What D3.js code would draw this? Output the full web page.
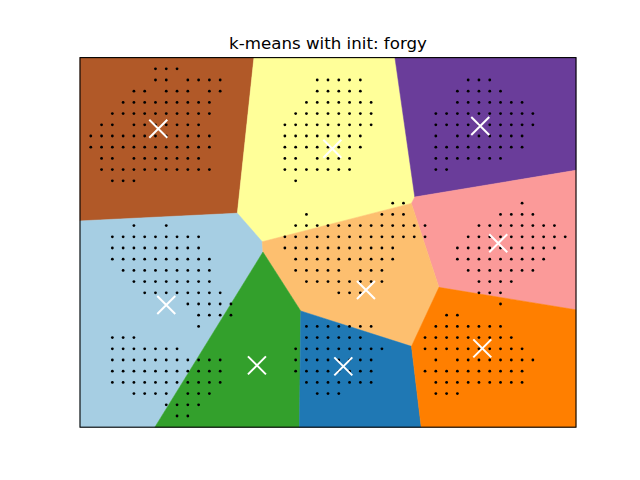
<!DOCTYPE html>
<html><head><meta charset="utf-8">
<script src="https://cdn.jsdelivr.net/npm/d3@7"></script>
<style>body{margin:0;background:#fff}svg{display:block}</style>
</head><body>
<script>
// ---- data ----
const title = "k-means with init: forgy";
const xDomain = [-1, 45];
const yDomain = [-1, 32];
// centroid positions (grid units) and their region colours (Paired colormap)
const centroidX = [6.26, 22.40, 36.12, 37.79, 7.00, 25.52, 15.41, 23.42, 36.31];
const centroidY = [5.35, 7.14, 5.11, 15.57, 21.09, 19.75, 26.48, 26.57, 24.96];
const regionColors = ["#b15928", "#ffff99", "#6a3d9a", "#fb9a99", "#a6cee3", "#fdbf6f", "#33a02c", "#1f78b4", "#ff7f00"];
// sample points: row index and the column indices present in that row
const rowIndex = [0,1,2,3,4,5,6,7,8,9,10,12,13,14,15,16,17,18,19,20,21,22,23,24,25,26,27,28,29,30,31];
const rowColumns = [
  [6,7,8],
  [6,7,9,10,11,12,21,22,23,24,25,35,36,37],
  [4,5,7,8,9,11,12,21,22,23,24,25,34,35,36,37,38],
  [3,4,5,6,7,8,9,10,11,20,21,22,23,24,25,26,34,35,36,37,38,39,40],
  [2,3,4,5,6,7,8,9,10,11,19,20,21,22,23,24,25,26,32,33,34,35,36,37,38,39,40,41],
  [1,2,4,5,6,7,8,9,10,18,19,20,21,22,23,24,25,26,32,33,34,35,36,37,38,39,40,41],
  [0,1,2,3,4,5,6,7,8,9,10,11,18,19,20,21,22,23,24,25,32,34,35,36,37,38,39,40],
  [0,1,2,3,4,5,6,7,8,9,10,11,18,19,20,21,22,23,24,25,32,33,34,35,36,37,38,39,40],
  [1,2,4,5,6,7,8,9,10,18,19,21,22,23,24,32,33,34,35,36,37,38],
  [1,2,3,4,5,6,7,8,9,10,11,18,19,20,21,22,23,24,32,33],
  [2,3,4,19],
  [28,29,40],
  [20,27,28,29,38,39,40,41],
  [4,7,19,20,21,22,23,24,25,26,27,28,29,30,31,36,37,38,39,40,41,42,43],
  [2,3,4,5,6,7,8,9,10,18,19,20,21,22,23,24,25,26,27,28,29,30,31,35,36,37,38,39,40,41,42,43,44],
  [2,3,4,5,6,7,8,9,10,18,19,20,21,22,23,24,25,26,27,28,34,35,36,37,38,39,40,41,42,43],
  [2,3,4,5,6,7,8,9,10,11,19,20,21,22,23,24,25,26,27,28,34,35,36,37,38,39,40,41,42],
  [3,4,5,6,7,8,9,10,11,19,20,21,22,23,25,26,27,35,36,37,38,39,40,41],
  [4,5,6,7,8,9,10,11,20,21,22,23,24,25,26,27,36,37,38,39],
  [5,6,7,8,9,10,11,12,23,24,25,36,37,38],
  [9,10,11,12,13,38],
  [10,11,12,13,33,34],
  [10,20,21,22,23,24,25,26,32,33,34,35,36,37,38],
  [2,3,4,20,21,22,23,24,25,31,32,33,34,35,36,37,38,39],
  [2,3,4,5,6,7,8,19,20,21,22,23,24,25,26,27,31,32,33,34,35,36,37,38,39,40],
  [2,3,4,5,6,7,8,9,10,11,12,19,20,21,22,23,24,25,26,32,34,35,36,37,38,39,40,41],
  [2,3,4,5,6,7,8,9,10,11,12,19,20,21,22,23,24,25,26,31,32,33,34,35,36,37,38,39,40],
  [2,3,4,5,6,7,8,9,10,11,12,20,21,22,23,24,25,26,32,33,34,35,36,37,38,39,40],
  [4,5,6,7,9,10,11,21,22,23,32,33,34],
  [7,8,9,10],
  [8,9]
];

// ---- drawing ----
const W = 640, H = 480;
const svg = d3.select("body").append("svg").attr("width", W).attr("height", H);
const pLeft = 80, pRight = 576, pTop = 57.6, pBottom = 427.2;
const x = d3.scaleLinear().domain(xDomain).range([pLeft, pRight]);
const y = d3.scaleLinear().domain(yDomain).range([pTop, pBottom]);

const centroids = centroidX.map((cx, k) => ({x: cx, y: centroidY[k], color: regionColors[k]}));
const delaunay = d3.Delaunay.from(centroids, d => d.x, d => d.y);
const vor = delaunay.voronoi([xDomain[0], yDomain[0], xDomain[1], yDomain[1]]);

const g = svg.append("g");
g.selectAll("path.cell").data(centroids).join("path")
  .attr("class", "cell")
  .attr("d", (d, k) => {
    const poly = vor.cellPolygon(k);
    return "M" + poly.map(p => [x(p[0]), y(p[1])].join(",")).join("L") + "Z";
  })
  .attr("fill", d => d.color)
  .attr("stroke", d => d.color)
  .attr("stroke-width", 0.5);

const points = [];
rowIndex.forEach((r, k) => rowColumns[k].forEach(c => points.push({x: c, y: r})));
g.selectAll("circle.pt").data(points).join("circle")
  .attr("class", "pt")
  .attr("cx", d => x(d.x))
  .attr("cy", d => y(d.y))
  .attr("r", 1.4)
  .attr("fill", "#000");

const s = 9;
g.selectAll("path.ctr").data(centroids).join("path")
  .attr("class", "ctr")
  .attr("d", d => {
    const cx = x(d.x), cy = y(d.y);
    return `M${cx - s},${cy - s}L${cx + s},${cy + s}M${cx - s},${cy + s}L${cx + s},${cy - s}`;
  })
  .attr("stroke", "#fff")
  .attr("stroke-width", 2)
  .attr("fill", "none");

svg.append("rect")
  .attr("x", pLeft).attr("y", pTop)
  .attr("width", pRight - pLeft).attr("height", pBottom - pTop)
  .attr("fill", "none").attr("stroke", "#000").attr("stroke-width", 1.1);

svg.append("text")
  .attr("x", (pLeft + pRight) / 2).attr("y", 49.3)
  .attr("text-anchor", "middle")
  .attr("font-family", "DejaVu Sans, sans-serif")
  .attr("font-size", 16.67)
  .attr("fill", "#000")
  .text(title);
</script>
</body></html>
